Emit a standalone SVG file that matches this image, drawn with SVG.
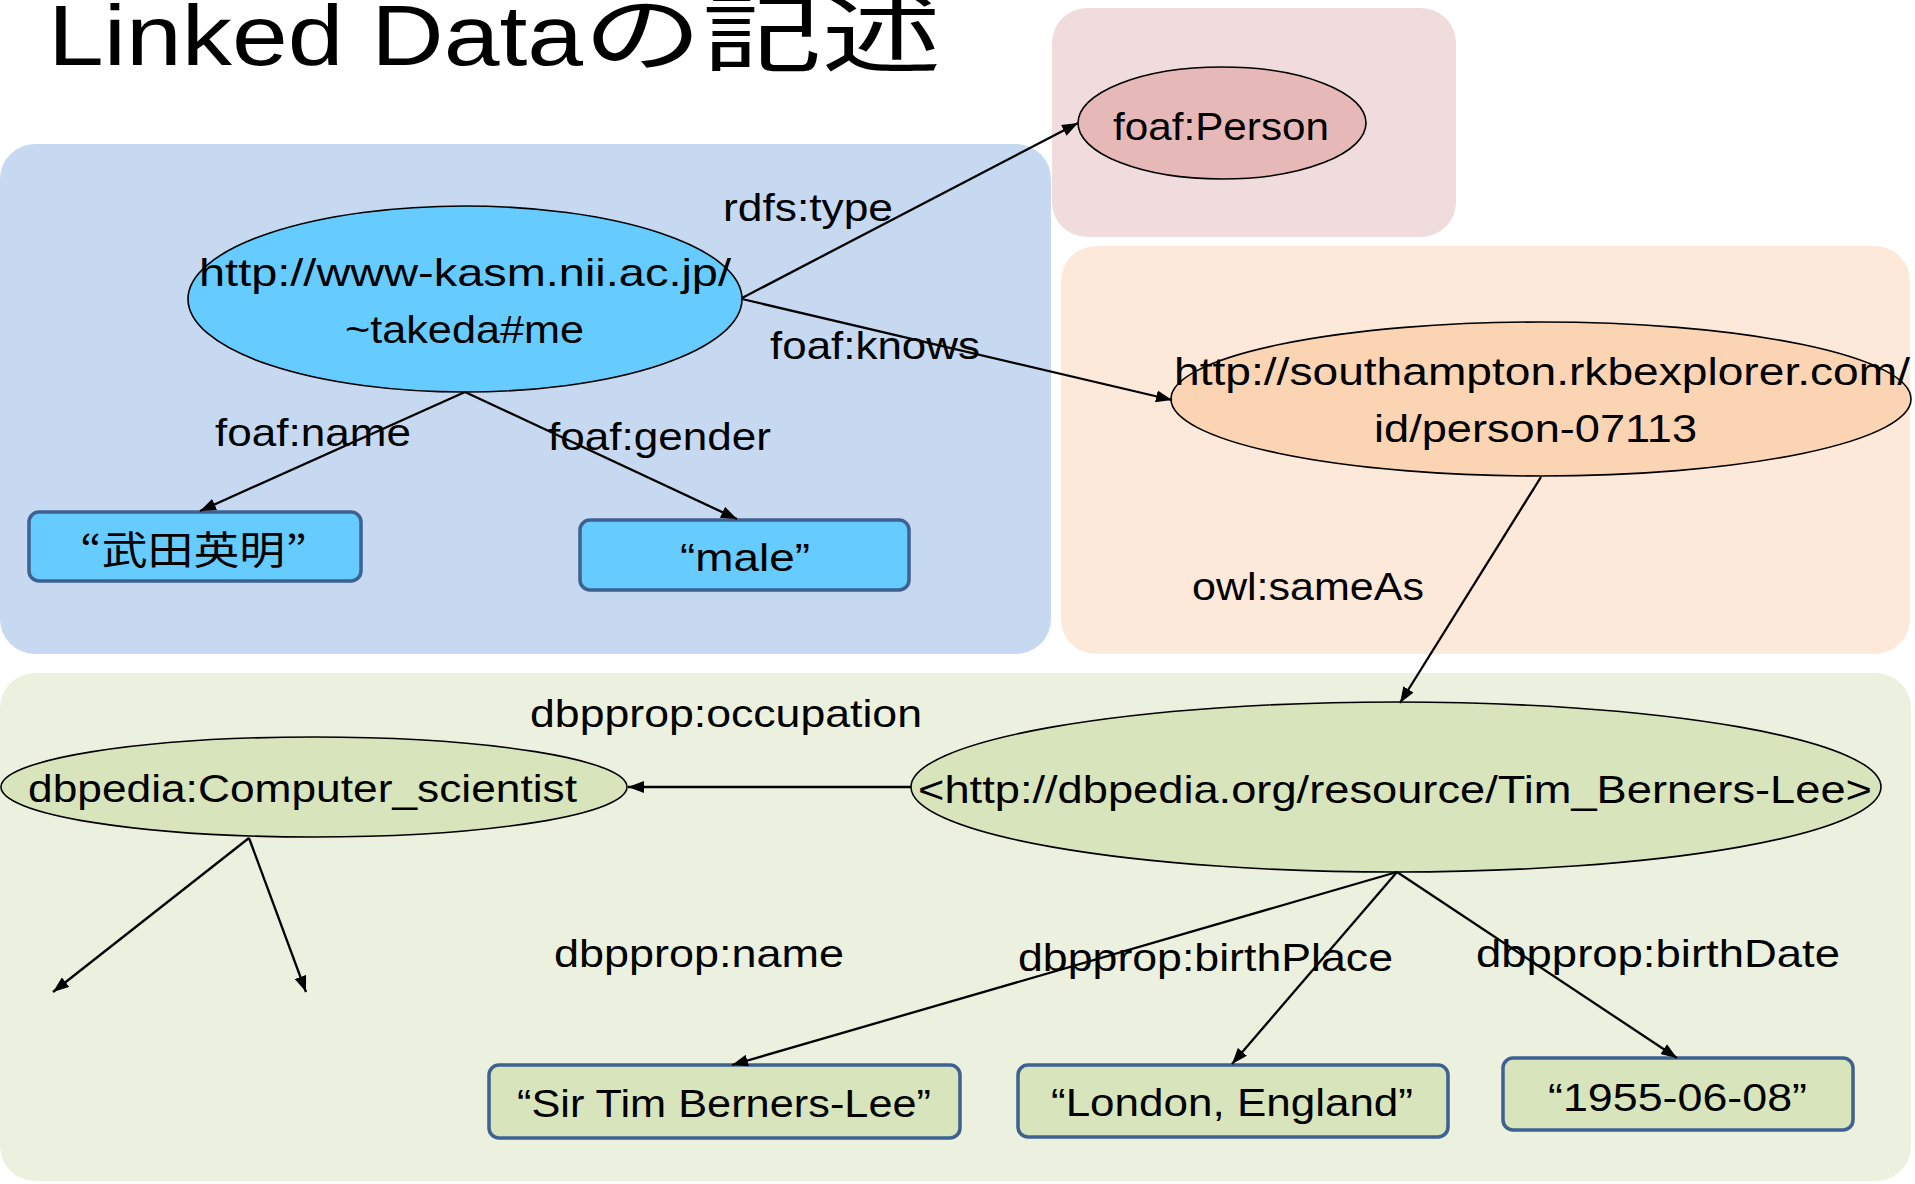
<svg xmlns="http://www.w3.org/2000/svg" width="1915" height="1184" viewBox="0 0 1915 1184">
<defs>
<style>
text{font-family:"Liberation Sans",Arial,"Noto Sans CJK JP",sans-serif;font-size:39px;fill:#000}
.t{font-size:85px}
.cjk{font-family:"Noto Sans CJK JP","Liberation Sans",sans-serif}
.el{stroke:#000;stroke-width:1.6}
.box{stroke:#3E6191;stroke-width:3.5}
.c line{stroke:#000;stroke-width:2.3;marker-end:url(#arr)}
</style>
<marker id="arr" viewBox="0 0 16 12" refX="16" refY="6" markerWidth="16" markerHeight="12" markerUnits="userSpaceOnUse" orient="auto"><path d="M0,0 L16,6 L0,12 z" fill="#000"/></marker>
</defs>
<rect width="1915" height="1184" fill="#fff"/>
<g id="panels">
<rect x="0" y="144" width="1051" height="510" rx="35" fill="#C6D9F0"/>
<rect x="1052" y="8" width="404" height="229" rx="35" fill="#F0DCDC"/>
<rect x="1061" y="246" width="849" height="408" rx="35" fill="#FDE9D9"/>
<rect x="0" y="673" width="1911" height="508" rx="35" fill="#EBF1DE"/>
</g>
<g id="title">
<text class="t" x="48" y="65" textLength="535" lengthAdjust="spacingAndGlyphs">Linked Data</text>
<text class="t cjk" x="583" y="65" font-size="74" textLength="358" lengthAdjust="spacingAndGlyphs">の記述</text>
</g>
<g id="takeda">
<ellipse class="el" cx="465" cy="299" rx="277" ry="93" fill="#66CCFF"/>
<text x="199" y="286" textLength="532" lengthAdjust="spacingAndGlyphs">http://www-kasm.nii.ac.jp/</text>
<text x="345" y="343" textLength="239" lengthAdjust="spacingAndGlyphs">~takeda#me</text>
</g>
<g id="person">
<ellipse class="el" cx="1222" cy="123" rx="144" ry="56" fill="#E6B8B7"/>
<text x="1113" y="140" textLength="216" lengthAdjust="spacingAndGlyphs">foaf:Person</text>
</g>
<g id="southampton">
<ellipse class="el" cx="1541" cy="399" rx="370" ry="77" fill="#FBD4B4"/>
<text x="1174" y="385" textLength="736" lengthAdjust="spacingAndGlyphs">http://southampton.rkbexplorer.com/</text>
<text x="1374" y="442" textLength="323" lengthAdjust="spacingAndGlyphs">id/person-07113</text>
</g>
<g id="name-jp">
<rect class="box" x="29" y="512" width="332" height="69" rx="10" fill="#66CCFF"/>
<text class="cjk" x="80" y="564" font-size="42" textLength="227" lengthAdjust="spacingAndGlyphs">“武田英明”</text>
</g>
<g id="male">
<rect class="box" x="580" y="520" width="329" height="70" rx="10" fill="#66CCFF"/>
<text x="680" y="571" textLength="130" lengthAdjust="spacingAndGlyphs">“male”</text>
</g>
<g id="tbl">
<ellipse class="el" cx="1396" cy="787" rx="485" ry="85" fill="#D7E4BC"/>
<text x="918" y="803" textLength="954" lengthAdjust="spacingAndGlyphs">&lt;http://dbpedia.org/resource/Tim_Berners-Lee&gt;</text>
</g>
<g id="compsci">
<ellipse class="el" cx="314" cy="787" rx="313" ry="50" fill="#D7E4BC" stroke-width="2.2"/>
<text x="28" y="802" textLength="549" lengthAdjust="spacingAndGlyphs">dbpedia:Computer_scientist</text>
</g>
<g id="sirtim">
<rect class="box" x="489" y="1065" width="471" height="73" rx="10" fill="#D7E4BC"/>
<text x="517" y="1117" textLength="414" lengthAdjust="spacingAndGlyphs">“Sir Tim Berners-Lee”</text>
</g>
<g id="london">
<rect class="box" x="1018" y="1065" width="430" height="72" rx="10" fill="#D7E4BC"/>
<text x="1051" y="1116" textLength="362" lengthAdjust="spacingAndGlyphs">“London, England”</text>
</g>
<g id="date">
<rect class="box" x="1503" y="1058" width="350" height="72" rx="10" fill="#D7E4BC"/>
<text x="1548" y="1111" textLength="259" lengthAdjust="spacingAndGlyphs">“1955-06-08”</text>
</g>
<g id="connectors" class="c">
<line x1="742" y1="298" x2="1078" y2="123"/>
<line x1="742" y1="299" x2="1172" y2="400"/>
<line x1="465" y1="392" x2="200" y2="511"/>
<line x1="465" y1="392" x2="737" y2="519"/>
<line x1="1541" y1="477" x2="1400" y2="703"/>
<line x1="911" y1="787" x2="628" y2="787"/>
<line x1="249" y1="838" x2="53" y2="992"/>
<line x1="249" y1="838" x2="306" y2="992"/>
<line x1="1397" y1="872" x2="732" y2="1065"/>
<line x1="1397" y1="872" x2="1232" y2="1064"/>
<line x1="1397" y1="872" x2="1677" y2="1058"/>
</g>
<g id="labels">
<text x="723" y="221" textLength="170" lengthAdjust="spacingAndGlyphs">rdfs:type</text>
<text x="770" y="359" textLength="210" lengthAdjust="spacingAndGlyphs">foaf:knows</text>
<text x="215" y="446" textLength="196" lengthAdjust="spacingAndGlyphs">foaf:name</text>
<text x="548" y="450" textLength="223" lengthAdjust="spacingAndGlyphs">foaf:gender</text>
<text x="1192" y="600" textLength="232" lengthAdjust="spacingAndGlyphs">owl:sameAs</text>
<text x="530" y="727" textLength="392" lengthAdjust="spacingAndGlyphs">dbpprop:occupation</text>
<text x="554" y="967" textLength="290" lengthAdjust="spacingAndGlyphs">dbpprop:name</text>
<text x="1018" y="971" textLength="375" lengthAdjust="spacingAndGlyphs">dbpprop:birthPlace</text>
<text x="1476" y="967" textLength="364" lengthAdjust="spacingAndGlyphs">dbpprop:birthDate</text>
</g>
</svg>
